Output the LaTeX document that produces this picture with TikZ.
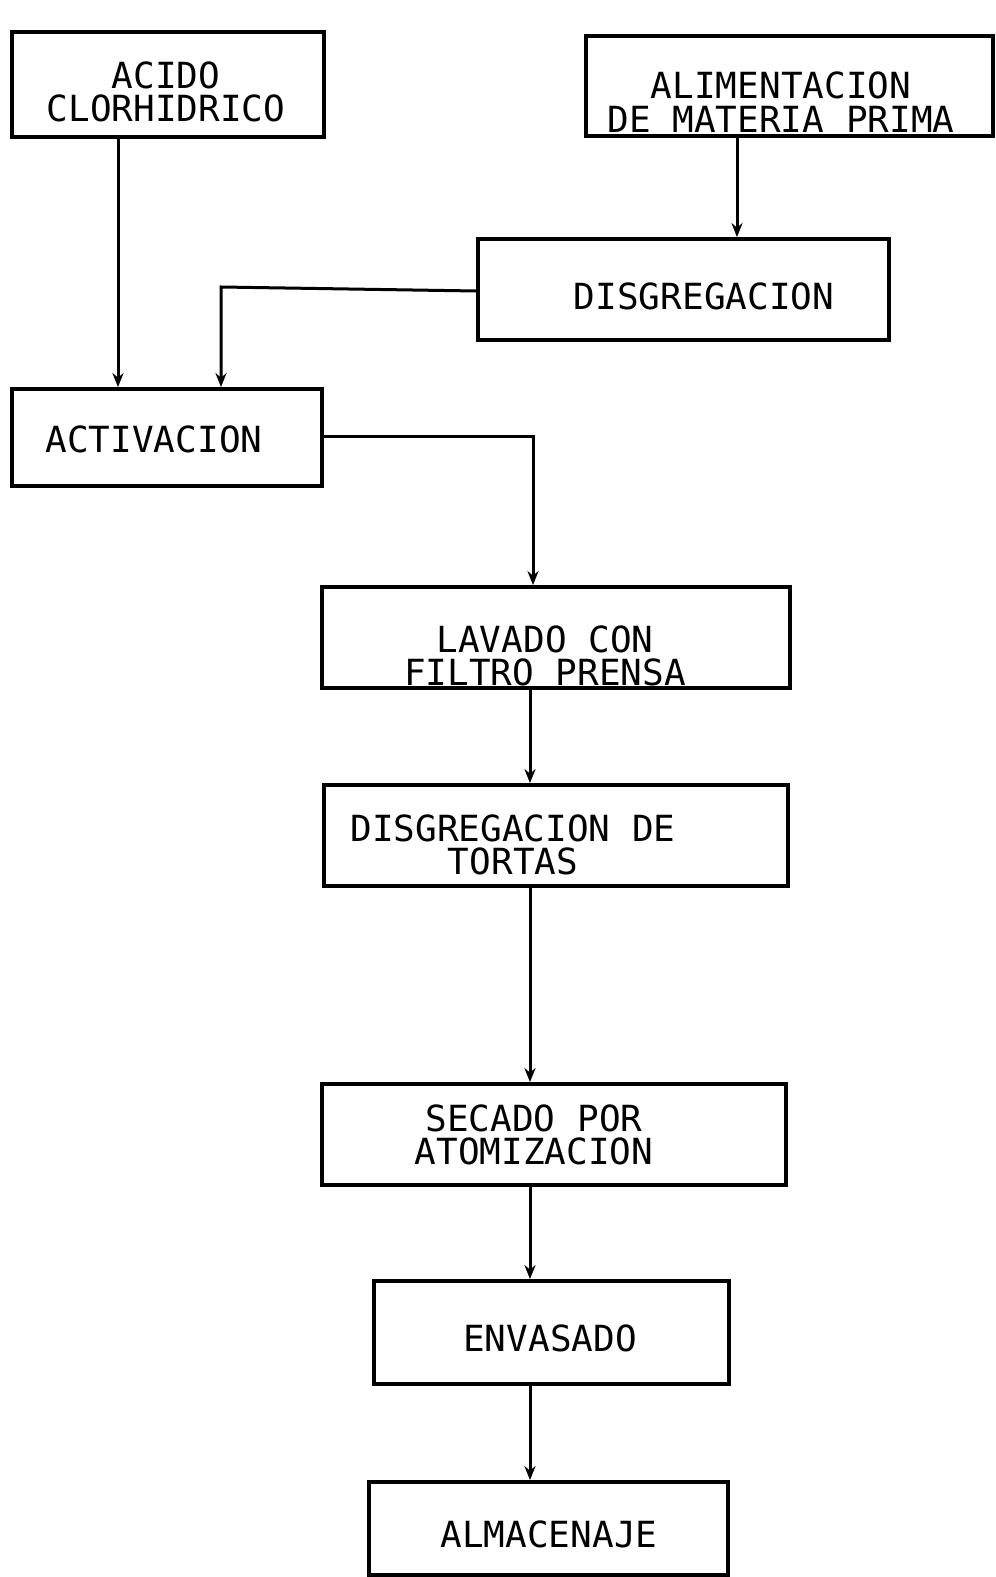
\documentclass[tikz,border=0pt]{standalone}
\usepackage{fontspec}
\newfontfamily\tw{DejaVu Sans Mono}
\usetikzlibrary{arrows.meta}
\tikzset{
  stagebox/.style={draw=black, line width=1.9pt, inner sep=0pt, fill=none},
  lbl/.style={font=\tw\fontsize{18}{16.8}\selectfont, align=center, inner sep=0pt, text=black},
  flow/.style={line width=1.5pt, line join=miter, -{Stealth[length=7pt,width=5.5pt]}}
}
\begin{document}
\begin{tikzpicture}[x=0.5pt,y=-0.5pt]
\useasboundingbox (0,0) rectangle (995,1577);
% boxes
\node[stagebox, minimum width=156pt, minimum height=52.5pt] (acido) at (168,84.5) {};
\node[stagebox, minimum width=203.5pt, minimum height=50pt] (alim) at (789.5,86) {};
\node[stagebox, minimum width=205.5pt, minimum height=50.5pt] (disg) at (683.5,289.5) {};
\node[stagebox, minimum width=155pt, minimum height=48.5pt] (activ) at (167,437.5) {};
\node[stagebox, minimum width=234pt, minimum height=50.5pt] (lavado) at (556,637.5) {};
\node[stagebox, minimum width=232pt, minimum height=50.5pt] (tortas) at (556,835.5) {};
\node[stagebox, minimum width=232pt, minimum height=50.5pt] (secado) at (554,1134.5) {};
\node[stagebox, minimum width=177.5pt, minimum height=51.5pt] (envas) at (551.5,1332.5) {};
\node[stagebox, minimum width=179.5pt, minimum height=46.5pt] (almac) at (548.5,1528.5) {};
% texts
\node[lbl] (tacido) at (166,92) {ACIDO\\CLORHIDRICO};
\node[lbl] (talim) at (781,102) {ALIMENTACION\\DE MATERIA PRIMA};
\node[lbl] (tdisg) at (704,296) {DISGREGACION};
\node[lbl] (tactiv) at (154,439) {ACTIVACION};
\node[lbl] (tlavado) at (545,656) {LAVADO CON\\FILTRO PRENSA};
\node[lbl] (ttortas) at (513,845) {DISGREGACION DE\\TORTAS};
\node[lbl] (tsecado) at (534,1135) {SECADO POR\\ATOMIZACION};
\node[lbl] (tenvas) at (550,1338) {ENVASADO};
\node[lbl] (talmac) at (549,1534) {ALMACENAJE};
% connector guides
\coordinate (xa) at (118,0);
\coordinate (xb) at (737,0);
\coordinate (xc) at (221,287);
\coordinate (xd) at (533,437);
\coordinate (xm) at (530,0);
% connectors
\draw[flow] (xa |- acido.south) -- (xa |- activ.north);
\draw[flow] (xb |- alim.south) -- (xb |- disg.north);
\draw[flow] (disg.west |- 0,291) -- (xc) -- (xc |- activ.north);
\draw[flow] (activ.east |- xd) -- (xd) -- (xd |- lavado.north);
\draw[flow] (xm |- lavado.south) -- (xm |- tortas.north);
\draw[flow] (xm |- tortas.south) -- (xm |- secado.north);
\draw[flow] (xm |- secado.south) -- (xm |- envas.north);
\draw[flow] (xm |- envas.south) -- (xm |- almac.north);
\end{tikzpicture}
\end{document}
